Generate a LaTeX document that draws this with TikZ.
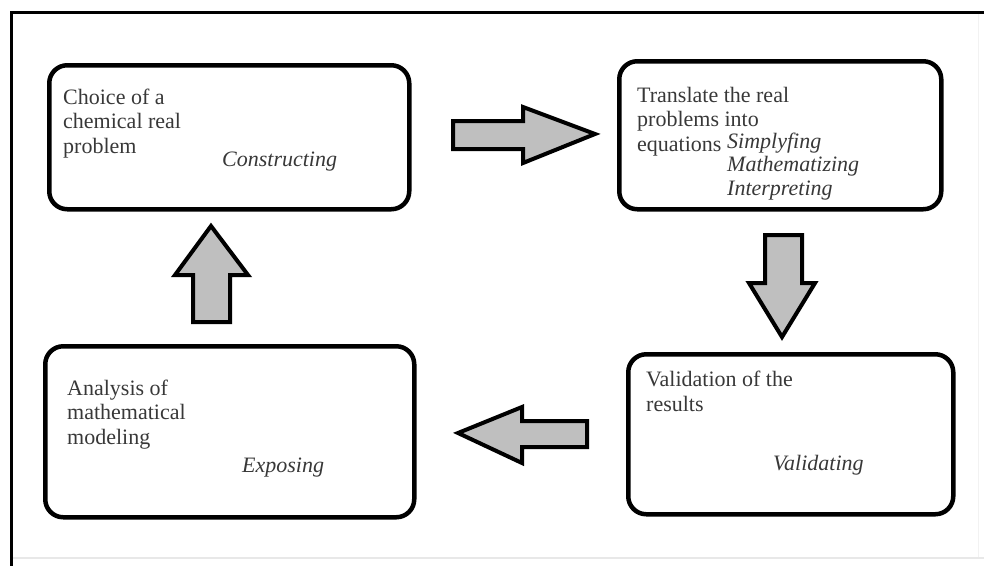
\documentclass[tikz,border=0pt]{standalone}
\usepackage{fontspec}
\setmainfont{Liberation Serif}
\begin{document}
\begin{tikzpicture}[x=1pt,y=-1pt,
  box/.style={draw=black,line width=4.5pt,rounded corners=18pt},
  blockarrow/.style={draw=black,fill=black!25,line width=4pt,line join=miter},
  txt/.style={anchor=base west,inner sep=0pt,align=left,text=black!78,
    font=\fontsize{22}{24.5}\selectfont},
  itx/.style={txt,font=\fontsize{22}{23.5}\selectfont\itshape}]
\useasboundingbox (0,0) rectangle (984,566);
% outer frame
\draw[line width=3pt] (10,12) -- (984,12);
\draw[line width=3pt] (11,12) -- (11,566);
\draw[black!9,line width=2pt] (13,558) -- (984,558);
\draw[black!5,line width=1pt] (978,14) -- (978,557);
% boxes
\node[box,minimum width=360pt,minimum height=144pt,anchor=north west] (b1) at (47,63) {};
\node[box,minimum width=322pt,minimum height=148pt,anchor=north west] (b2) at (617,59) {};
\node[box,minimum width=325pt,minimum height=160pt,anchor=north west] (b3) at (626,352) {};
\node[box,minimum width=369pt,minimum height=171pt,anchor=north west] (b4) at (43,344) {};
% texts (base = baseline of last line)
\node[txt] (t1) at (63,153) {Choice of a\\chemical real\\problem};
\node[itx] (i1) at (222,166) {Constructing};
\node[txt] (t2) at (637,151) {Translate the real\\problems into\\equations};
\node[itx] (i2) at (727,195) {Simplyfing\\Mathematizing\\Interpreting};
\node[txt] (t3) at (646,411) {Validation of the\\results};
\node[itx] (i3) at (773,470) {Validating};
\node[txt] (t4) at (67,444) {Analysis of\\mathematical\\modeling};
\node[itx] (i4) at (242,472) {Exposing};
% block arrows
\draw[blockarrow] (453,121) -- (523,121) -- (523,107) -- (595,134) -- (523,163) -- (523,149) -- (453,149) -- cycle;
\draw[blockarrow] (765,235) -- (802,235) -- (802,283) -- (815,283) -- (782,337) -- (749,283) -- (765,283) -- cycle;
\draw[blockarrow] (587,421) -- (522,421) -- (522,407) -- (458,433) -- (522,463) -- (522,447) -- (587,447) -- cycle;
\draw[blockarrow] (193,322) -- (193,275) -- (175,275) -- (211,226) -- (248,275) -- (230,275) -- (230,322) -- cycle;
\end{tikzpicture}
\end{document}
